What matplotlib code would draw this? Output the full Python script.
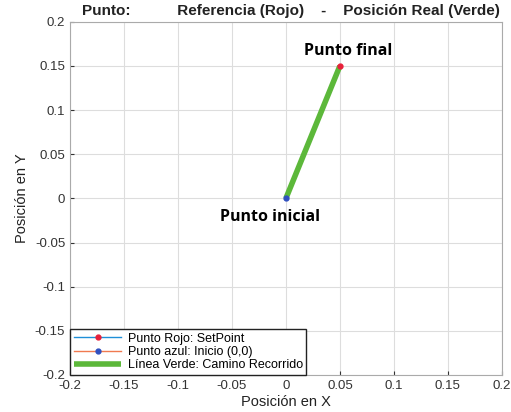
import matplotlib.pyplot as plt
from matplotlib.ticker import FuncFormatter

# Datos
x_ref = [0.05]          # punto rojo (setpoint)
y_ref = [0.15]
x_ini = [0.0]           # punto azul (inicio)
y_ini = [0.0]
x_path = [0.0, 0.05]    # camino recorrido
y_path = [0.0, 0.15]
ticks = [-0.2, -0.15, -0.1, -0.05, 0, 0.05, 0.1, 0.15, 0.2]

plt.rcParams['font.family'] = ['Liberation Sans', 'DejaVu Sans']

fig = plt.figure(figsize=(5.11, 4.12), dpi=100)
ax = fig.add_axes([0.137, 0.09, 0.845, 0.857])

ax.plot(x_path, y_path, color='#5cb83a', lw=4, solid_capstyle='butt',
        label='Línea Verde: Camino Recorrido', zorder=3)
ax.plot(x_ref, y_ref, '-o', color='#1f8fd8', mfc='#e8203a', mec='#e8203a',
        ms=3.5, lw=1, label='Punto Rojo: SetPoint', zorder=4)
ax.plot(x_ini, y_ini, '-o', color='#f07a50', mfc='#3050c0', mec='#3050c0',
        ms=3.5, lw=1, label='Punto azul: Inicio (0,0)', zorder=4)

ax.set_xlim(-0.2, 0.2)
ax.set_ylim(-0.2, 0.2)
ax.set_xticks(ticks)
ax.set_yticks(ticks)
fmt = FuncFormatter(lambda v, p: ('%g' % round(v, 2)).replace('−', '-'))
ax.xaxis.set_major_formatter(fmt)
ax.yaxis.set_major_formatter(fmt)
ax.tick_params(direction='in', labelsize=9.5, colors='#333333', length=3)
ax.grid(True, color='#dddddd', lw=0.8)
for s in ax.spines.values():
    s.set_color('#aaaaaa')

ax.set_xlabel('Posición en X', fontsize=10.5, color='#222222', labelpad=2)
ax.set_ylabel('Posición en Y', fontsize=10.5, color='#222222', labelpad=4)
ax.set_title('Punto:           Referencia (Rojo)    -    Posición Real (Verde)',
             fontsize=11, fontweight='bold', color='#222222', pad=5, x=0.512)

ax.text(0.0575, 0.158, 'Punto final', ha='center', va='bottom', fontsize=11.5,
        fontweight='bold', family=['Open Sans', 'DejaVu Sans'])
ax.text(-0.0145, -0.012, 'Punto inicial', ha='center', va='top', fontsize=11.5,
        fontweight='bold', family=['Open Sans', 'DejaVu Sans'])

h, l = ax.get_legend_handles_labels()
order = [1, 2, 0]
leg = ax.legend([h[i] for i in order], [l[i] for i in order], loc='lower left',
                fontsize=9, fancybox=False, edgecolor='#222222', framealpha=1,
                borderaxespad=0, handlelength=3.8, labelspacing=0.1,
                borderpad=0.3, handletextpad=0.5)
leg.get_frame().set_linewidth(1)

plt.savefig('out.png', dpi=100)
